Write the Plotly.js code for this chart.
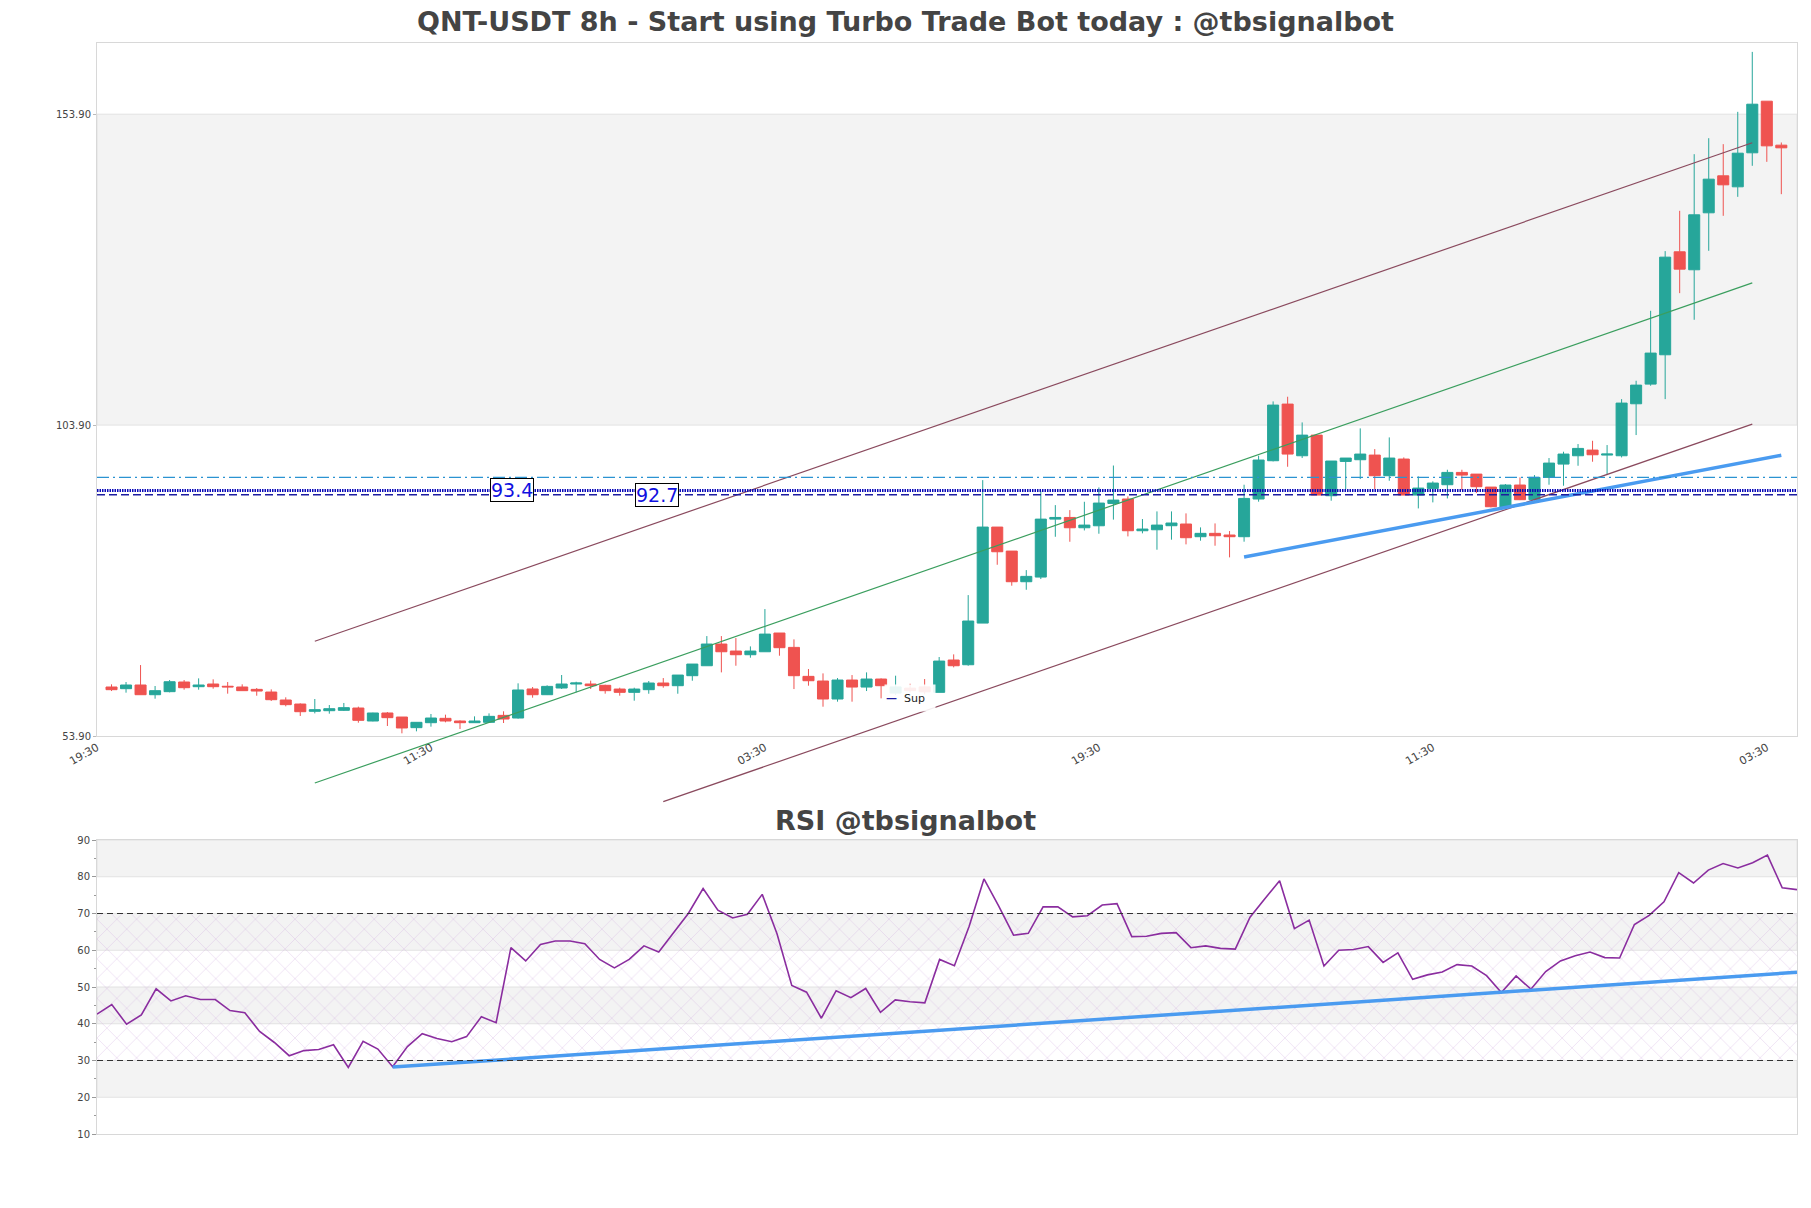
<!DOCTYPE html>
<html><head><meta charset="utf-8">
<script src="https://cdn.plot.ly/plotly-3.0.1.min.js"></script>
<style>html,body{margin:0;padding:0;background:#fff}#chart{width:1811px;height:1208px}</style>
</head><body><div id="chart"></div>
<script>
// ---- data ----
const openP = [61.78,61.51,62.10,60.54,61.03,62.58,61.83,62.26,61.90,61.78,61.40,60.97,59.69,59.04,57.87,57.97,58.03,58.40,56.31,57.60,
56.95,55.24,56.04,56.74,56.31,56.04,56.10,57.22,56.79,61.46,60.54,61.62,62.26,62.26,62.05,61.45,60.92,61.35,62.42,61.99,
63.60,65.20,68.69,67.56,66.97,67.45,70.46,68.15,63.49,62.74,59.85,62.90,61.77,63.06,60.80,61.60,61.80,60.92,66.12,65.36,
72.06,87.50,83.64,78.71,79.46,88.78,89.05,87.39,87.71,91.30,92.01,86.91,87.07,87.72,87.99,85.95,86.49,86.22,85.95,92.01,
98.17,107.28,98.97,102.29,92.54,98.06,98.33,99.08,95.76,98.44,92.65,93.72,94.31,96.29,96.02,93.93,90.67,94.26,91.90,95.49,
97.63,98.97,99.88,99.08,98.97,107.33,110.49,115.21,131.77,128.88,138.04,143.99,142.22,147.69,155.99,148.92];
const highP = [62.21,62.58,65.31,61.94,62.90,62.90,63.17,63.01,62.58,62.21,61.62,61.40,60.12,59.15,59.85,58.88,59.21,58.62,57.65,57.76,
56.95,56.10,57.44,57.33,56.42,57.06,57.54,57.87,62.37,61.78,62.05,63.71,62.63,62.80,62.15,61.67,61.67,62.74,63.22,63.70,
65.47,69.97,69.97,69.65,68.31,74.31,70.46,69.44,64.67,63.97,63.22,63.70,64.13,63.17,63.60,62.30,63.06,66.60,67.03,76.56,
95.05,87.50,83.64,80.58,93.34,91.03,90.23,91.57,93.88,97.40,92.43,88.79,90.02,90.02,89.70,87.45,88.09,86.86,94.31,98.97,
107.71,108.46,104.33,102.29,98.12,98.60,103.37,100.04,101.92,98.70,95.65,94.85,96.72,96.72,96.02,93.93,94.42,95.49,95.86,98.60,
99.62,100.85,101.38,100.69,108.08,111.03,122.28,131.88,138.36,147.47,150.04,149.08,154.28,163.92,155.99,149.35];
const lowP = [61.13,60.87,60.54,59.90,60.92,61.35,61.35,61.51,60.71,61.19,60.38,59.53,58.67,57.12,57.54,57.49,57.92,56.04,56.26,55.51,
54.33,54.65,55.40,56.10,55.03,56.04,55.99,55.99,56.69,60.06,60.49,61.46,60.92,61.46,60.71,60.38,59.58,60.70,61.67,60.70,
62.79,65.20,64.13,65.20,66.49,67.45,66.81,61.45,61.99,58.61,59.42,59.42,61.13,59.95,60.50,60.90,60.60,60.92,64.94,65.20,
72.06,81.44,78.07,77.42,79.14,85.94,85.14,86.96,86.43,88.70,86.00,86.49,83.86,85.47,84.72,85.31,84.50,82.63,85.15,91.58,
98.06,97.20,98.60,92.65,91.74,93.61,95.22,93.61,94.95,92.65,90.50,91.47,92.11,93.45,92.97,90.67,90.67,91.84,91.74,94.31,
94.15,97.36,98.01,95.86,98.70,102.30,110.23,108.08,125.12,120.84,131.93,137.56,140.61,145.60,146.24,141.04];
const closeP = [61.35,62.10,60.54,61.19,62.63,61.67,62.10,61.83,61.80,61.19,61.13,59.74,58.94,57.81,58.13,58.29,58.46,56.42,57.60,56.85,
55.19,56.10,56.79,56.31,56.04,56.31,57.06,56.63,61.30,60.54,61.88,62.26,62.42,61.99,61.19,60.92,61.45,62.42,61.99,63.70,
65.47,68.69,67.45,66.97,67.56,70.29,68.10,63.60,62.79,59.85,62.90,61.77,63.06,61.99,61.80,61.20,61.00,65.95,65.20,72.39,
87.50,83.53,78.71,79.57,88.78,89.05,87.39,87.82,91.36,91.84,86.91,87.18,87.82,88.15,85.79,86.49,86.11,85.95,92.11,98.28,
107.12,99.24,102.29,92.65,98.12,98.60,99.24,95.76,98.60,92.65,93.77,94.58,96.29,95.86,93.99,90.77,94.26,91.90,95.49,97.79,
99.24,100.15,99.13,99.24,107.44,110.33,115.48,130.91,128.98,137.72,143.45,142.54,147.63,155.51,148.81,148.49];
const rsiValues = [42.6,45.2,39.9,42.4,49.5,46.2,47.6,46.6,46.6,43.6,43.0,37.9,34.9,31.3,32.7,33.0,34.3,28.1,35.2,33.1,
28.3,33.8,37.3,36.0,35.1,36.5,41.9,40.3,60.7,57.1,61.6,62.5,62.5,61.8,57.5,55.2,57.5,61.2,59.5,64.6,
70.0,76.8,70.9,68.8,69.8,75.2,64.5,50.4,48.6,41.5,49.0,47.1,49.6,43.1,46.5,46.0,45.7,57.5,55.8,66.5,
79.4,72.0,64.1,64.6,71.8,71.8,69.1,69.4,72.3,72.7,63.7,63.8,64.6,64.8,60.7,61.2,60.5,60.3,69.0,74.0,
78.9,65.9,68.2,55.7,60.0,60.2,61.0,56.7,59.3,52.1,53.3,54.1,56.1,55.7,53.1,48.5,53.0,49.4,54.2,57.1,
58.5,59.5,58.0,57.9,67.0,69.5,73.2,81.1,78.3,81.8,83.6,82.4,83.8,85.9,77.0,76.5];

const tickPositions = [-1, 22, 45, 68, 91, 114];
const tickLabels = ['19:30', '11:30', '03:30', '19:30', '11:30', '03:30'];
const priceTicks = [53.9, 103.9, 153.9];
const priceTickText = ['53.90', '103.90', '153.90'];
const priceBand = [103.9, 153.9];
const levelDashDot = 95.5;
const levelDotted = 93.4;
const levelDashed = 92.7;
const channelUpperX = [14, 113], channelUpperY = [69.13, 149.3];
const channelMidX = [14, 113], channelMidY = [46.34, 126.78];
const channelLowerX = [38, 113], channelLowerY = [43.34, 104.06];
const supportX = [78, 115], supportY = [82.69, 99.04];
const rsiSupportX = [20, 115], rsiSupportY = [28.2, 54.0];
const rsiBands = [[80, 90], [60, 70], [40, 50], [20, 30]];
const rsiLevels = [30, 70];
const labelDotted = {x: 27.6, text: '93.4'};
const labelDashed = {x: 37.6, text: '92.7'};

// ---- layout geometry ----
const W = 1811, H = 1208;
const mTop = 43, mBot = 74, mL = 97, mR = 14;
const plotH = H - mTop - mBot;
const mainBottomPx = 736, rsiTopPx = 840, extBottomPx = 815;
const mainRange = [53.9, 165.35];
const pxPerUnit = (mainBottomPx - mTop) / (mainRange[1] - mainRange[0]);
const mainDomain = [(H - mBot - mainBottomPx) / plotH, 1];
const extDomain = [(H - mBot - extBottomPx) / plotH, 1];
const extRange = [mainRange[0] - (extBottomPx - mainBottomPx) / pxPerUnit, mainRange[1]];
const rsiDomain = [0, (H - mBot - rsiTopPx) / plotH];
const idx = openP.map((_, i) => i);
const rsiIdx = rsiValues.map((_, i) => i);

const FONT = 'DejaVu Sans';
const green = '#26a69a', red = '#ef5350';

const traces = [
  {type: 'candlestick', x: idx, open: openP, high: highP, low: lowP, close: closeP,
   xaxis: 'x', yaxis: 'y', whiskerwidth: 0,
   increasing: {line: {color: green, width: 1}, fillcolor: green},
   decreasing: {line: {color: red, width: 1}, fillcolor: red},
   hoverinfo: 'skip'},
  {type: 'scatter', mode: 'lines', x: channelUpperX, y: channelUpperY, xaxis: 'x', yaxis: 'y3',
   line: {color: '#8a4a5e', width: 1.2}, hoverinfo: 'skip'},
  {type: 'scatter', mode: 'lines', x: channelMidX, y: channelMidY, xaxis: 'x', yaxis: 'y3',
   line: {color: '#3a9e5e', width: 1.2}, hoverinfo: 'skip'},
  {type: 'scatter', mode: 'lines', x: channelLowerX, y: channelLowerY, xaxis: 'x', yaxis: 'y3',
   line: {color: '#8a4a5e', width: 1.2}, hoverinfo: 'skip'},
  {type: 'scatter', mode: 'lines', x: supportX, y: supportY, xaxis: 'x', yaxis: 'y3',
   line: {color: '#4a9bf0', width: 3.5}, hoverinfo: 'skip'},
  {type: 'scatter', mode: 'lines', x: [0, rsiIdx.length - 1, rsiIdx.length - 1, 0, 0],
   y: [rsiLevels[0], rsiLevels[0], rsiLevels[1], rsiLevels[1], rsiLevels[0]],
   xaxis: 'x2', yaxis: 'y2', fill: 'toself', fillcolor: 'rgba(0,0,0,0)',
   fillpattern: {shape: 'x', fgcolor: 'rgba(200,160,220,0.5)', bgcolor: 'rgba(0,0,0,0)', size: 14, solidity: 0.08},
   line: {width: 0}, hoverinfo: 'skip'},
  {type: 'scatter', mode: 'lines', x: rsiIdx, y: rsiValues, xaxis: 'x2', yaxis: 'y2',
   line: {color: '#8a2d9f', width: 1.6}, hoverinfo: 'skip'},
  {type: 'scatter', mode: 'lines', x: rsiSupportX, y: rsiSupportY, xaxis: 'x2', yaxis: 'y2',
   line: {color: '#4a9bf0', width: 3.5}, hoverinfo: 'skip'}
];

const shapes = [
  {type: 'rect', xref: 'paper', x0: 0, x1: 1, yref: 'y', y0: priceBand[0], y1: priceBand[1],
   fillcolor: '#f3f3f3', line: {color: '#e2e2e2', width: 1}, layer: 'below'},
  {type: 'line', xref: 'paper', x0: 0, x1: 1, yref: 'y', y0: levelDashDot, y1: levelDashDot,
   line: {color: '#2b93d1', width: 1.2, dash: '12px,4px,2px,4px'}},
  {type: 'line', xref: 'paper', x0: 0, x1: 1, yref: 'y', y0: levelDotted, y1: levelDotted,
   line: {color: '#0a0ab8', width: 3, dash: '1.5px,1px'}},
  {type: 'line', xref: 'paper', x0: 0, x1: 1, yref: 'y', y0: levelDashed, y1: levelDashed,
   line: {color: '#1c1ca0', width: 1.5, dash: '8px,4px'}}
];
rsiBands.forEach(b => shapes.push({type: 'rect', xref: 'paper', x0: 0, x1: 1, yref: 'y2', y0: b[0], y1: b[1],
  fillcolor: '#f3f3f3', line: {color: '#e2e2e2', width: 1}, layer: 'below'}));
rsiLevels.forEach(v => shapes.push({type: 'line', xref: 'paper', x0: 0, x1: 1, yref: 'y2', y0: v, y1: v,
  line: {color: '#333', width: 1.2, dash: '6px,4px'}}));

const annotations = [
  {xref: 'x', yref: 'y', x: labelDotted.x, y: levelDotted, text: labelDotted.text, showarrow: false,
   font: {family: FONT, size: 19, color: '#1010e0'}, bgcolor: '#fff', bordercolor: '#000', borderwidth: 1, borderpad: 0},
  {xref: 'x', yref: 'y', x: labelDashed.x, y: levelDashed, text: labelDashed.text, showarrow: false,
   font: {family: FONT, size: 19, color: '#1010e0'}, bgcolor: '#fff', bordercolor: '#000', borderwidth: 1, borderpad: 0},
  {xref: 'x', yref: 'y', x: 55.0, y: 60.0, text: "<span style='color:#1c1ca0'><b>—</b></span>  Sup", showarrow: false,
   font: {family: FONT, size: 11, color: '#222'}, bgcolor: 'rgba(255,255,255,0.9)', width: 48, height: 24, align: 'left'},
  {xref: 'paper', yref: 'paper', x: (W / 2 - mL) / (W - mL - mR), y: (H - mBot - 820) / plotH,
   xanchor: 'center', yanchor: 'middle', text: 'RSI @tbsignalbot', showarrow: false,
   font: {family: FONT, size: 27, color: '#444', weight: 'bold'}}
];

const axisCommon = {showgrid: false, zeroline: false, showline: true, mirror: true, linecolor: '#d8d8d8', linewidth: 1,
  tickfont: {family: FONT, size: 10, color: '#444'}};

const layout = {
  width: W, height: H,
  margin: {l: mL, r: mR, t: mTop, b: mBot, pad: 0},
  paper_bgcolor: '#fff', plot_bgcolor: 'rgba(0,0,0,0)',
  showlegend: false, boxgap: 0.24, boxgroupgap: 0,
  title: {text: 'QNT-USDT 8h - Start using Turbo Trade Bot today : @tbsignalbot',
    font: {family: FONT, size: 27, color: '#444', weight: 'bold'},
    x: 0.5, xref: 'container', xanchor: 'center', y: 1 - 22 / H, yref: 'container', yanchor: 'middle'},
  xaxis: Object.assign({}, axisCommon, {domain: [0, 1], anchor: 'y', range: [-1, 116.08],
    tickmode: 'array', tickvals: tickPositions, ticktext: tickLabels, tickangle: -30, ticks: '',
    tickfont: {family: FONT, size: 11, color: '#444'}, rangeslider: {visible: false}}),
  yaxis: Object.assign({}, axisCommon, {domain: mainDomain, anchor: 'x', range: mainRange, autorange: false,
    tickmode: 'array', tickvals: priceTicks, ticktext: priceTickText, ticks: 'outside', ticklen: 3, tickcolor: '#bbb'}),
  yaxis3: {domain: extDomain, anchor: 'x', range: extRange, autorange: false, visible: false,
    showgrid: false, zeroline: false, fixedrange: true},
  xaxis2: Object.assign({}, axisCommon, {domain: [0, 1], anchor: 'y2', range: [0, rsiIdx.length - 1],
    showticklabels: false, ticks: ''}),
  yaxis2: Object.assign({}, axisCommon, {domain: rsiDomain, anchor: 'x2', range: [10, 90], autorange: false,
    tickmode: 'linear', tick0: 10, dtick: 10, ticks: 'outside', ticklen: 4, tickcolor: '#999',
    minor: {dtick: 5, tick0: 5, ticks: 'outside', ticklen: 2, tickcolor: '#999'}}),
  shapes: shapes,
  annotations: annotations
};

Plotly.newPlot('chart', traces, layout, {staticPlot: true, displayModeBar: false});
</script>
</body></html>
